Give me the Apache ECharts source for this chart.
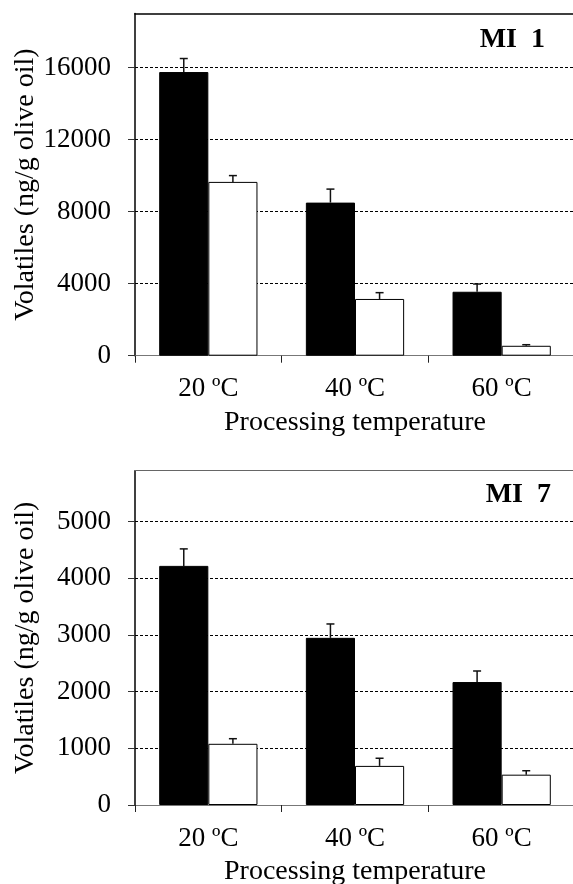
<!DOCTYPE html>
<html>
<head>
<meta charset="utf-8">
<script src="https://cdn.jsdelivr.net/npm/echarts@6/dist/echarts.min.js"></script>
<style>
html,body{margin:0;padding:0;background:#fff;}
#chart{width:573px;height:884px;}
</style>
</head>
<body>
<div id="chart"></div>
<script>
const categories = ['20 \u00BAC', '40 \u00BAC', '60 \u00BAC'];
const mi1Black = [15750, 8500, 3550];
const mi1BlackErr = [750, 750, 430];
const mi1White = [9650, 3150, 550];
const mi1WhiteErr = [350, 350, 60];
const mi7Black = [4220, 2950, 2170];
const mi7BlackErr = [300, 245, 195];
const mi7White = [1080, 690, 535];
const mi7WhiteErr = [90, 135, 70];
const mi1Ticks = [0, 4000, 8000, 12000, 16000];
const mi7Ticks = [0, 1000, 2000, 3000, 4000, 5000];
const mi1Max = 19000;
const mi7Max = 5900;

const FONT = 'Liberation Serif';
const GAP = 0.33;

function errData(vals, errs) {
  return vals.map((v, i) => [i, v, errs[i]]);
}
function errSeries(xi, yi, vals, errs, side) {
  return {
    type: 'custom',
    xAxisIndex: xi, yAxisIndex: yi,
    z: 10,
    data: errData(vals, errs),
    renderItem: function (params, api) {
      const cat = api.value(0), v = api.value(1), e = api.value(2);
      const p0 = api.coord([cat, v]);
      const p1 = api.coord([cat, v + e]);
      const band = api.size([1, 0])[0];
      const bw = band * (1 - GAP) / 2;
      const x = p0[0] + side * bw / 2;
      const st = { stroke: '#111', lineWidth: 1.5 };
      return {
        type: 'group',
        children: [
          { type: 'line', shape: { x1: x, y1: p0[1], x2: x, y2: p1[1] }, style: st },
          { type: 'line', shape: { x1: x - 4, y1: p1[1], x2: x + 4, y2: p1[1] }, style: st }
        ]
      };
    }
  };
}

function xAxisBottom(gi) {
  return {
    type: 'category', gridIndex: gi, data: categories, position: 'bottom',
    axisLine: { show: true, lineStyle: { color: '#777', width: 1 } },
    axisTick: { show: true, length: 7, alignWithLabel: false, lineStyle: { color: '#222', width: 1 } },
    axisLabel: { color: '#000', fontFamily: FONT, fontSize: 27, margin: 20 },
    name: 'Processing temperature', nameLocation: 'middle', nameGap: 53, nameMoveOverlap: false,
    nameTextStyle: { color: '#000', fontFamily: FONT, fontSize: 28 }
  };
}
function xAxisTop(gi, color, width) {
  return {
    type: 'category', gridIndex: gi, data: categories, position: 'top',
    axisLine: { show: true, lineStyle: { color: color, width: width } },
    axisTick: { show: false }, axisLabel: { show: false }, splitLine: { show: false }
  };
}
function yAxis(gi, max, interval, ticks) {
  return {
    type: 'value', gridIndex: gi, min: 0, max: max, interval: interval,
    axisLine: { show: true, lineStyle: { color: '#000', width: 1.5 } },
    axisTick: { show: true, length: 7, customValues: ticks, lineStyle: { color: '#333', width: 1 } },
    axisLabel: { color: '#000', fontFamily: FONT, fontSize: 27, margin: 24, customValues: ticks,
      formatter: function (v) { return String(v); } },
    splitLine: { show: true, lineStyle: { color: '#000', width: 1, type: [3, 2] } },
    name: 'Volatiles (ng/g olive oil)', nameLocation: 'middle', nameGap: 95, nameMoveOverlap: false,
    nameTextStyle: { color: '#000', fontFamily: FONT, fontSize: 28 }
  };
}

const option = {
  backgroundColor: '#fff',
  animation: false,
  title: [
    { text: 'MI  1', right: 23, top: 21, textStyle: { fontFamily: FONT, fontSize: 28, fontWeight: 'bold', color: '#000' } },
    { text: 'MI  7', right: 17, top: 476, textStyle: { fontFamily: FONT, fontSize: 28, fontWeight: 'bold', color: '#000' } }
  ],
  grid: [
    { left: 135, top: 13.5, width: 440, height: 342.2, outerBoundsMode: 'none', containLabel: false },
    { left: 135, top: 470.7, width: 440, height: 334.3, outerBoundsMode: 'none', containLabel: false }
  ],
  xAxis: [xAxisBottom(0), xAxisTop(0, '#000', 1.5), xAxisBottom(1), xAxisTop(1, '#666', 1)],
  yAxis: [yAxis(0, mi1Max, 4000, mi1Ticks), yAxis(1, mi7Max, 1000, mi7Ticks)],
  series: [
    { type: 'bar', xAxisIndex: 0, yAxisIndex: 0, data: mi1Black, barGap: '0%', barCategoryGap: '33%',
      itemStyle: { color: '#000', borderColor: '#000', borderWidth: 1 } },
    { type: 'bar', xAxisIndex: 0, yAxisIndex: 0, data: mi1White, barGap: '0%', barCategoryGap: '33%',
      itemStyle: { color: '#fff', borderColor: '#000', borderWidth: 1 } },
    errSeries(0, 0, mi1Black, mi1BlackErr, -1),
    errSeries(0, 0, mi1White, mi1WhiteErr, 1),
    { type: 'bar', xAxisIndex: 2, yAxisIndex: 1, data: mi7Black, barGap: '0%', barCategoryGap: '33%',
      itemStyle: { color: '#000', borderColor: '#000', borderWidth: 1 } },
    { type: 'bar', xAxisIndex: 2, yAxisIndex: 1, data: mi7White, barGap: '0%', barCategoryGap: '33%',
      itemStyle: { color: '#fff', borderColor: '#000', borderWidth: 1 } },
    errSeries(2, 1, mi7Black, mi7BlackErr, -1),
    errSeries(2, 1, mi7White, mi7WhiteErr, 1)
  ]
};

const chart = echarts.init(document.getElementById('chart'), null, { renderer: 'canvas' });
chart.setOption(option);
</script>
</body>
</html>
